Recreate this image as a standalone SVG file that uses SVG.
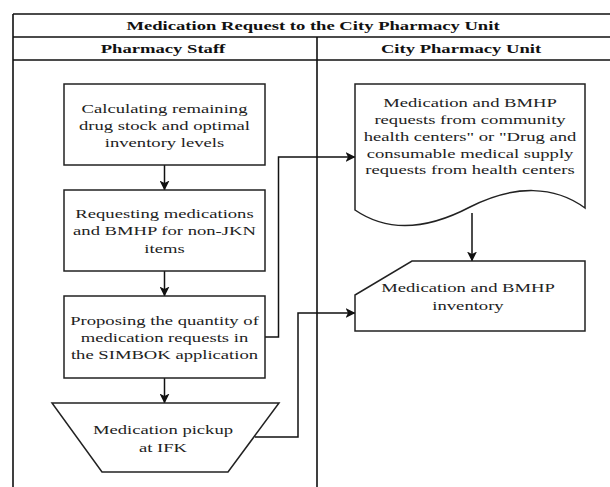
<svg xmlns="http://www.w3.org/2000/svg" width="610" height="487" viewBox="0 0 610 487">
<defs>
<style>
.frame{fill:none;stroke:#111;stroke-width:1.6}
.shape{fill:#fff;stroke:#222;stroke-width:1.5}
.conn{fill:none;stroke:#111;stroke-width:1.5}
.t{font-family:"Liberation Serif","Times New Roman",serif;font-size:13.5px;fill:#222;text-anchor:middle}
.b{font-weight:bold;fill:#111}
</style>
<marker id="arr" viewBox="0 0 10 10" refX="9.5" refY="5" markerWidth="10" markerHeight="10" markerUnits="userSpaceOnUse" orient="auto">
<path d="M0,0 L10,5 L0,10 L2.5,5 Z" fill="#111"/>
</marker>
</defs>
<rect width="610" height="487" fill="#fff"/>
<g id="pool">
<path class="frame" d="M13,14 H612 M13,14 V487 M13,37 H612 M13,60 H612 M317,37 V487"/>
<text class="t b" transform="translate(313 0) scale(1.38 1)" y="30">Medication Request to the City Pharmacy Unit</text>
<text class="t b" transform="translate(163 0) scale(1.38 1)" y="53">Pharmacy Staff</text>
<text class="t b" transform="translate(461 0) scale(1.38 1)" y="53">City Pharmacy Unit</text>
</g>
<g id="connectors">
<path class="conn" d="M164.5,165 V190" marker-end="url(#arr)"/>
<path class="conn" d="M164.5,271 V296" marker-end="url(#arr)"/>
<path class="conn" d="M164.5,378 V403" marker-end="url(#arr)"/>
<path class="conn" d="M265,337 H278.5 V157 H355" marker-end="url(#arr)"/>
<path class="conn" d="M255,437 H298 V313 H355" marker-end="url(#arr)"/>
<path class="conn" d="M472,213 V261" marker-end="url(#arr)"/>
</g>
<g id="calc">
<rect class="shape" x="64" y="84" width="201" height="81"/>
<text class="t" transform="translate(164.5 0) scale(1.38 1)"><tspan x="0" y="113">Calculating remaining</tspan><tspan x="0" y="130">drug stock and optimal</tspan><tspan x="0" y="147">inventory levels</tspan></text>
</g>
<g id="request">
<rect class="shape" x="64" y="190" width="201" height="81"/>
<text class="t" transform="translate(164.5 0) scale(1.38 1)"><tspan x="0" y="218">Requesting medications</tspan><tspan x="0" y="235.5">and BMHP for non-JKN</tspan><tspan x="0" y="253">items</tspan></text>
</g>
<g id="propose">
<rect class="shape" x="64" y="296" width="201" height="82"/>
<text class="t" transform="translate(164.5 0) scale(1.38 1)"><tspan x="0" y="325">Proposing the quantity of</tspan><tspan x="0" y="342">medication requests in</tspan><tspan x="0" y="359.5">the SIMBOK application</tspan></text>
</g>
<g id="pickup">
<path class="shape" d="M52,403 H279 L228,472 H102 Z"/>
<text class="t" transform="translate(163 0) scale(1.38 1)"><tspan x="0" y="434.5">Medication pickup</tspan><tspan x="0" y="452.5">at IFK</tspan></text>
</g>
<g id="document">
<path class="shape" d="M355,84 H585 V208 C555,186 515,184 470,207 C430,228 390,234 355,210 Z"/>
<text class="t" transform="translate(470 0) scale(1.38 1)"><tspan x="0" y="107.5">Medication and BMHP</tspan><tspan x="0" y="124.5">requests from community</tspan><tspan x="0" y="141">health centers" or "Drug and</tspan><tspan x="0" y="158">consumable medical supply</tspan><tspan x="0" y="174.5">requests from health centers</tspan></text>
</g>
<g id="inventory">
<path class="shape" d="M412,261 H585 V331 H355 V295 Z"/>
<text class="t" transform="translate(468 0) scale(1.38 1)"><tspan x="0" y="292.5">Medication and BMHP</tspan><tspan x="0" y="310">inventory</tspan></text>
</g>
</svg>
